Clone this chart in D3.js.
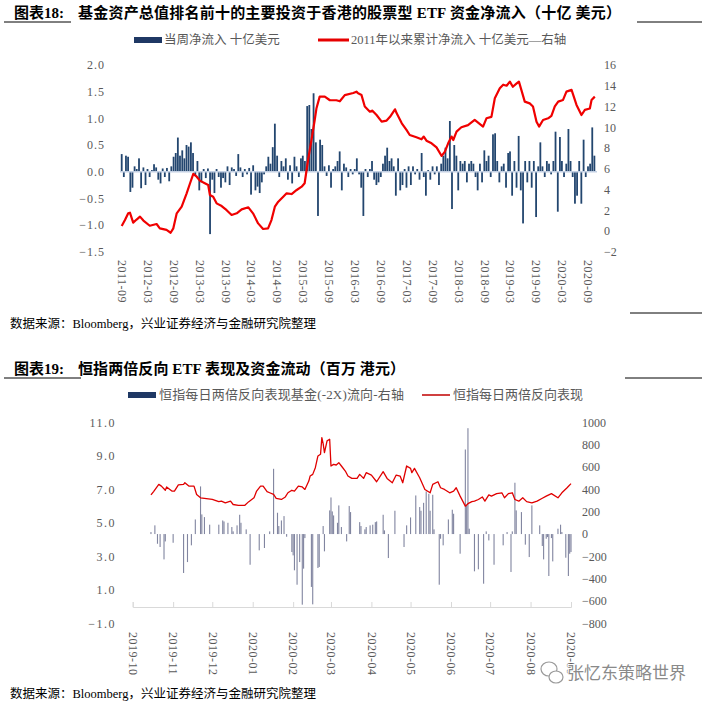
<!DOCTYPE html>
<html>
<head>
<meta charset="utf-8">
<title>ETF flows</title>
<style>
  body, html { margin: 0; padding: 0; background: #fff; }
  svg { display: block; }
  text { font-family: 'Liberation Serif', 'Noto Sans CJK SC', serif; }
</style>
</head>
<body>
<svg id="svg" width="706" height="703"></svg>
<script src="https://d3js.org/d3.v7.min.js"></script>
<script>
// ---- 图表18 data: half-monthly net flow (bn USD), cumulative since 2011 (right axis)
const flowStart = '2011-09-01'
const weeklyFlow = [
  0.33, -0.1, 0.3, 0.28, -0.38, -0.3, 0.1, 0.05, 0.25, -0.31,
  0.08, -0.25, 0.05, -0.1, 0.03, 0.14, 0.08, -0.15, -0.22, 0.06,
  -0.1, 0.07, -0.18, 0.1, 0.28, 0.35, 0.64, 0.3, 0.4, 0.25,
  0.5, 0.47, 0.55, 0.35, -0.08, 0.2, -0.35, -0.2, 0.05, -0.12,
  0.06, -1.17, -0.15, -0.4, 0.05, -0.1, -0.3, -0.12, -0.2, 0.1,
  -0.25, 0.08, 0.05, -0.08, 0.33, 0.08, -0.1, 0.05, -0.05, 0.07,
  -0.43, 0.12, -0.35, -0.28, -0.4, -0.2, -0.05, 0.1, 0.28, 0.15,
  0.46, 0.9, 0.3, -0.1, 0.2, 0.1, 0.25, -0.15, 0.12, -0.22,
  0.28, 0.1, -0.1, 0.25, 0.3, 0.2, 1.23, 1.25, 0.8, 1.47,
  0.55, -0.83, 0.6, 0.5, 0.1, -0.08, 0.12, -0.3, 0.05, 0.1,
  0.2, 0.38, -0.35, 0.15, 0.08, -0.1, 0.05, -0.05, 0.05, 0.25,
  -0.05, -0.3, -0.83, 0.05, -0.1, 0.05, 0.2, -0.15, -0.25, -0.2,
  -0.1, 0.15, 0.3, 0.45, 0.2, 0.25, 0.1, -0.45, 0.25, -0.35,
  -0.25, 0.05, -0.3, 0.1, -0.25, 0.1, -0.05, 0.05, -0.15, 0.35,
  -0.1, -0.45, 0.03, -0.15, 0.1, -0.05, 0.1, -0.25, 0.15, 0.3,
  0.45, 0.25, 0.95, -0.7, 0.5, 0.3, -0.35, 0.2, 0.15, 0.2,
  -0.2, 0.15, 0.2, 0.15, -0.1, -0.35, 0.15, -0.2, 0.4, 0.2,
  0.3, -0.1, 0.7, 0.72, 0.2, -0.2, 0.1, 0.15, -0.3, 0.35,
  0.38, -0.45, 0.2, -0.3, 0.67, -0.35, -0.97, 0.2, -0.2, 0.2,
  -0.3, 0.2, -0.85, 0.1, 0.55, 0.1, -0.1, 0.2, 0.15, -0.05,
  0.2, 0.75, -0.75, 0.65, 0.2, -0.1, 0.15, 0.8, 0.2, -0.1,
  -0.6, -0.45, 0.2, -0.6, 0.6, -0.1, 0.1, 0.15, 0.83, 0.3
]
const cumDates = [
  '2011-09-01', '2011-09-24', '2011-10-17', '2011-10-29', '2011-11-21', '2011-12-15',
  '2012-01-08', '2012-02-01', '2012-03-17', '2012-05-04', '2012-05-27', '2012-07-13',
  '2012-08-11', '2012-08-30', '2012-09-23', '2012-10-28', '2012-12-02', '2012-12-26',
  '2013-01-18', '2013-02-11', '2013-03-05', '2013-04-09', '2013-05-03', '2013-05-15',
  '2013-06-07', '2013-07-01', '2013-08-06', '2013-09-10', '2013-10-15', '2013-11-20',
  '2013-12-25', '2014-02-10', '2014-03-15', '2014-04-20', '2014-05-25', '2014-06-29',
  '2014-07-23', '2014-08-16', '2014-09-09', '2014-10-14', '2014-11-07', '2014-12-12',
  '2015-01-17', '2015-02-21', '2015-03-14', '2015-04-07', '2015-05-01', '2015-05-24',
  '2015-06-05', '2015-06-28', '2015-08-03', '2015-09-08', '2015-10-24', '2015-11-17',
  '2015-12-22', '2016-02-20', '2016-03-13', '2016-03-25', '2016-04-18', '2016-05-11',
  '2016-06-16', '2016-07-04', '2016-08-02', '2016-09-07', '2016-10-12', '2016-11-05',
  '2016-12-10', '2016-12-22', '2017-01-27', '2017-03-01', '2017-03-24', '2017-05-10',
  '2017-06-15', '2017-07-01', '2017-07-20', '2017-08-25', '2017-09-29', '2017-11-04',
  '2017-11-27', '2017-12-20', '2018-01-13', '2018-01-25', '2018-02-17', '2018-03-23',
  '2018-05-09', '2018-06-25', '2018-07-19', '2018-08-23', '2018-09-16', '2018-10-21',
  '2018-11-14', '2018-12-19', '2019-01-12', '2019-02-05', '2019-02-28', '2019-03-21',
  '2019-04-15', '2019-05-03', '2019-05-20', '2019-06-13', '2019-07-18', '2019-08-10',
  '2019-09-04', '2019-09-22', '2019-10-20', '2019-11-25', '2019-12-18', '2020-01-11',
  '2020-02-04', '2020-03-09', '2020-04-02', '2020-05-08', '2020-06-12', '2020-07-17',
  '2020-08-10', '2020-09-14', '2020-09-26', '2020-10-19'
]
const cumValues = [
  0.48, 1.05, 1.7, 1.76, 0.8, 1.1,
  1.38, 1.0, 0.5, 0.67, 0.25, 0.1,
  -0.17, 0.25, 1.7, 2.34, 3.63, 4.6,
  5.5, 5.23, 4.85, 4.6, 4.43, 3.47,
  3.3, 2.66, 2.4, 2.0, 1.54, 1.7,
  2.08, 2.28, 1.7, 0.73, 0.19, 0.25,
  1.05, 2.34, 2.82, 3.3, 3.63, 3.56,
  3.95, 4.27, 4.6, 6.84, 8.77, 10.7,
  11.8, 12.95, 12.95, 12.6, 12.6, 12.5,
  13.1, 13.3, 13.43, 13.27, 13.1, 12.0,
  11.5, 11.6, 11.18, 10.54, 10.64, 11.0,
  11.73, 11.34, 10.38, 9.74, 9.25, 9.03,
  8.84, 9.1, 8.7, 8.45, 8.06, 7.23,
  7.65, 8.45, 9.1, 8.77, 9.58, 10.0,
  10.2, 10.7, 10.44, 10.06, 10.86, 11.0,
  12.8, 13.76, 14.1, 14.0, 14.4, 13.9,
  14.2, 14.4, 13.6, 12.47, 12.3, 12.0,
  10.54, 10.06, 10.7, 10.86, 11.1, 12.0,
  12.47, 12.63, 13.43, 13.6, 12.15, 11.18,
  11.67, 11.8, 12.63, 12.95
]
const ticks18 = ['2011-09', '2012-03', '2012-09', '2013-03', '2013-09', '2014-03', '2014-09',
  '2015-03', '2015-09', '2016-03', '2016-09', '2017-03', '2017-09', '2018-03', '2018-09',
  '2019-03', '2019-09', '2020-03', '2020-09']
const left18 = [-1.5, -1.0, -0.5, 0, 0.5, 1.0, 1.5, 2.0]
const right18 = [-2, 0, 2, 4, 6, 8, 10, 12, 14, 16]

// ---- 图表19 data: daily -2X fund flow (mn HKD, right axis) and fund performance (left axis)
const flowDates19 = [
  '2019-10-15', '2019-10-18', '2019-10-20', '2019-10-22', '2019-10-25', '2019-10-26',
  '2019-11-01', '2019-11-09', '2019-11-12', '2019-11-15', '2019-11-18', '2019-11-22', '2019-11-23', '2019-11-25', '2019-11-29',
  '2019-12-06', '2019-12-09', '2019-12-10', '2019-12-13', '2019-12-16', '2019-12-17', '2019-12-20', '2019-12-22', '2019-12-23', '2019-12-27', '2019-12-30',
  '2020-01-06', '2020-01-10', '2020-01-14', '2020-01-17', '2020-01-20', '2020-01-21', '2020-01-23', '2020-01-25', '2020-01-27', '2020-01-31',
  '2020-02-01', '2020-02-02', '2020-02-04', '2020-02-06', '2020-02-08', '2020-02-09', '2020-02-10', '2020-02-15', '2020-02-16', '2020-02-20', '2020-02-21', '2020-02-24', '2020-02-25', '2020-02-29',
  '2020-03-01', '2020-03-02', '2020-03-03', '2020-03-06', '2020-03-07', '2020-03-09', '2020-03-13', '2020-03-15', '2020-03-16', '2020-03-23', '2020-03-24', '2020-03-27', '2020-03-28', '2020-03-31',
  '2020-04-02', '2020-04-04', '2020-04-05', '2020-04-10', '2020-04-11', '2020-04-14', '2020-04-19', '2020-04-26', '2020-04-28',
  '2020-05-01', '2020-05-05', '2020-05-08', '2020-05-09', '2020-05-11', '2020-05-13', '2020-05-15', '2020-05-16', '2020-05-18', '2020-05-19', '2020-05-23', '2020-05-24', '2020-05-26', '2020-05-30',
  '2020-06-02', '2020-06-03', '2020-06-08', '2020-06-12', '2020-06-13', '2020-06-14', '2020-06-15', '2020-06-19', '2020-06-22', '2020-06-26', '2020-06-28', '2020-06-30',
  '2020-07-04', '2020-07-11', '2020-07-14', '2020-07-17', '2020-07-18', '2020-07-20', '2020-07-21', '2020-07-25', '2020-07-28', '2020-07-31',
  '2020-08-02', '2020-08-08', '2020-08-10', '2020-08-11', '2020-08-13', '2020-08-14', '2020-08-15', '2020-08-17', '2020-08-18', '2020-08-22', '2020-08-24', '2020-08-25', '2020-08-28', '2020-08-30', '2020-08-31',
  '2020-09-01'
]
const flowValues19 = [
  18, 78, -87, -116, -227, -66,
  -78, -349, -251, -101, 131, 427, 176, 152, 84,
  84, 122, 113, 101, 63, 24, 78, 173, 101, 42, -275,
  -146, -125, 24, 585, 191, 72, 122, 161, -24, -161,
  -191, -325, -454, -251, -633, -310, -36, -474, -630, -304, -295, 72, -155, 212,
  328, 203, 167, 101, 257, 63, -66, 251, 197, 107, 72, 42, 63, 78,
  84, 107, 113, 173, 33, -215, 209, -116, 78,
  149, 346, 242, 209, 280, 382, 361, 209, 352, 42, -454, -42, -101, 131,
  218, 182, -176, 758, 257, 949, 48, -334, -316, -445, 24, -57,
  -275, -101, 18, -340, 24, 460, 212, 197, -95, -206,
  257, 78, -107, -227, -42, -27, -376, -36, -245, 48, 84, 18, -212, -376, -176,
  -161
]
const perfDates19 = [
  '2019-10-15', '2019-10-17', '2019-10-21', '2019-10-23', '2019-10-26', '2019-10-27', '2019-10-31',
  '2019-11-02', '2019-11-05', '2019-11-09', '2019-11-10', '2019-11-13', '2019-11-17', '2019-11-19', '2019-11-22', '2019-11-25',
  '2019-12-01', '2019-12-06', '2019-12-08', '2019-12-11', '2019-12-15', '2019-12-17', '2019-12-21', '2019-12-26', '2019-12-29',
  '2020-01-02', '2020-01-04', '2020-01-07', '2020-01-09', '2020-01-12', '2020-01-14', '2020-01-17', '2020-01-19', '2020-01-23', '2020-01-26', '2020-01-28', '2020-01-31',
  '2020-02-02', '2020-02-05', '2020-02-08', '2020-02-10', '2020-02-13', '2020-02-14', '2020-02-16', '2020-02-18', '2020-02-20', '2020-02-22', '2020-02-23', '2020-02-24', '2020-02-25', '2020-02-27', '2020-02-29',
  '2020-03-01', '2020-03-03', '2020-03-05', '2020-03-07', '2020-03-09', '2020-03-12', '2020-03-14', '2020-03-17', '2020-03-21', '2020-03-23', '2020-03-26', '2020-03-28',
  '2020-04-01', '2020-04-05', '2020-04-10', '2020-04-13', '2020-04-17', '2020-04-20', '2020-04-23', '2020-04-25', '2020-04-28',
  '2020-05-01', '2020-05-02', '2020-05-04', '2020-05-08', '2020-05-12', '2020-05-16', '2020-05-18', '2020-05-22', '2020-05-24', '2020-05-27', '2020-05-31',
  '2020-06-03', '2020-06-05', '2020-06-08', '2020-06-12', '2020-06-14', '2020-06-17', '2020-06-19', '2020-06-22', '2020-06-25', '2020-06-27', '2020-06-30',
  '2020-07-02', '2020-07-06', '2020-07-10', '2020-07-12', '2020-07-15', '2020-07-18', '2020-07-20', '2020-07-23', '2020-07-26', '2020-07-29',
  '2020-08-02', '2020-08-06', '2020-08-10', '2020-08-13', '2020-08-17', '2020-08-22', '2020-08-25', '2020-08-29',
  '2020-09-01'
]
const perfValues19 = [
  6.67, 6.87, 7.3, 7.2, 6.95, 7.15, 6.9,
  6.9, 7.27, 7.3, 7.4, 7.2, 7.2, 6.7, 6.5, 6.47,
  6.4, 6.27, 6.3, 6.2, 6.3, 6.1, 6.05, 6.05, 6.27,
  6.5, 6.9, 7.2, 7.2, 6.87, 6.8, 6.7, 6.47, 6.4, 6.55, 6.8, 6.95,
  6.9, 7.2, 7.15, 7.0, 7.5, 7.8, 7.9, 8.3, 9.0, 9.1, 10.1, 9.74, 9.2, 9.9, 10.0,
  8.4, 8.5, 8.46, 8.6, 8.4, 8.1, 7.8, 7.66, 7.66, 7.9, 7.66, 8.0,
  7.86, 7.46, 8.06, 7.66, 7.4, 7.86, 7.8, 7.4, 8.4,
  8.26, 8.0, 8.26, 7.7, 7.0, 6.8, 7.3, 7.46, 7.1, 7.0, 6.8,
  6.9, 7.1, 6.6, 6.0, 6.15, 6.27, 6.3, 6.4, 6.55, 6.3, 6.67,
  6.6, 6.75, 6.8, 6.5, 6.75, 6.8, 6.4, 6.3, 6.5, 6.27,
  6.2, 6.3, 6.47, 6.6, 6.75, 6.5, 6.8, 7.1,
  7.35
]
const ticks19 = ['2019-10', '2019-11', '2019-12', '2020-01', '2020-02', '2020-03', '2020-04',
  '2020-05', '2020-06', '2020-07', '2020-08', '2020-09']
const left19 = [-1, 1, 3, 5, 7, 9, 11]
const right19 = [-800, -600, -400, -200, 0, 200, 400, 600, 800, 1000]

const parse = d3.timeParse('%Y-%m-%d')
const parseMonth = d3.timeParse('%Y-%m')
const grey = '#595959'
const svg = d3.select('#svg')

function header(y, num, rest, restLen, ulEnd, rightStart) {
  svg.append('text').attr('x', 14).attr('y', y).attr('font-size', 15).attr('font-weight', 'bold')
    .attr('fill', '#000').text(num)
  svg.append('text').attr('x', 78).attr('y', y).attr('font-size', 15).attr('font-weight', 'bold')
    .attr('fill', '#000').attr('textLength', restLen).attr('lengthAdjust', 'spacing').text(rest)
  svg.append('line').attr('x1', 4).attr('x2', ulEnd).attr('y1', y + 4).attr('y2', y + 4)
    .attr('stroke', '#000').attr('stroke-width', 1)
  svg.append('line').attr('x1', rightStart).attr('x2', 702).attr('y1', y + 4).attr('y2', y + 4)
    .attr('stroke', '#000').attr('stroke-width', 1)
}

function source(y) {
  svg.append('text').attr('x', 10).attr('y', y).attr('font-size', 12.5).attr('fill', '#000')
    .text('数据来源：Bloomberg，兴业证券经济与金融研究院整理')
}

function styleAxis(g) {
  g.select('.domain').remove()
  g.selectAll('text').attr('fill', grey).attr('font-size', 12)
    .attr('font-family', "'Liberation Serif', serif")
}

// ================= 图表18 =================
header(18, '图表18:', '基金资产总值排名前十的主要投资于香港的股票型 ETF 资金净流入（十亿 美元）', 543, 71, 637)

svg.append('rect').attr('x', 134).attr('y', 37).attr('width', 28).attr('height', 6).attr('fill', '#1f3864')
svg.append('text').attr('x', 164).attr('y', 44).attr('font-size', 12.5).attr('fill', grey).text('当周净流入 十亿美元')
svg.append('line').attr('x1', 318).attr('x2', 349).attr('y1', 40).attr('y2', 40).attr('stroke', '#e60000').attr('stroke-width', 3)
svg.append('text').attr('x', 351).attr('y', 44).attr('font-size', 12.5).attr('fill', grey).text('2011年以来累计净流入 十亿美元—右轴')

const x1 = d3.scaleTime().domain([parseMonth('2011-09'), parseMonth('2020-09')]).range([121.7, 588])
const yL1 = d3.scaleLinear().domain([-1.5, 2]).range([251.7, 65])
const yR1 = d3.scaleLinear().domain([-2, 16]).range([251.7, 65])

const flowDates = weeklyFlow.map((v, i) =>
  d3.timeDay.offset(d3.timeMonth.offset(parse(flowStart), Math.floor(i / 2)), (i % 2) * 15))
const flow18 = weeklyFlow.map((v, i) => ({ date: flowDates[i], value: v }))

svg.append('g').selectAll('rect').data(flow18).enter().append('rect')
  .attr('x', d => x1(d.date) - 0.9)
  .attr('y', d => yL1(Math.max(0, d.value)))
  .attr('width', 1.8)
  .attr('height', d => Math.abs(yL1(d.value) - yL1(0)))
  .attr('fill', '#23466f')

svg.append('line').attr('x1', 120).attr('x2', 597).attr('y1', yL1(0)).attr('y2', yL1(0))
  .attr('stroke', '#c3d0e3').attr('stroke-width', 1.5)

const cum18 = cumDates.map((d, i) => ({ date: parse(d), value: cumValues[i] }))
svg.append('path').datum(cum18)
  .attr('fill', 'none').attr('stroke', '#f00000').attr('stroke-width', 2.2).attr('stroke-linejoin', 'round')
  .attr('d', d3.line().x(d => x1(d.date)).y(d => yR1(d.value)))

svg.append('g').attr('transform', 'translate(108,0)')
  .call(d3.axisLeft(yL1).tickValues(left18).tickFormat(d3.format('.1f')).tickSize(0).tickPadding(3))
  .call(g => styleAxis(g))
  .selectAll('text').attr('letter-spacing', 1)
svg.append('g').attr('transform', 'translate(601,0)')
  .call(d3.axisRight(yR1).tickValues(right18).tickFormat(d3.format('d')).tickSize(0).tickPadding(3))
  .call(g => styleAxis(g))
svg.append('g').attr('transform', 'translate(0,255)')
  .call(d3.axisBottom(x1).tickValues(ticks18.map(parseMonth)).tickFormat(d3.timeFormat('%Y-%m')).tickSize(0))
  .call(g => styleAxis(g))
  .selectAll('text').attr('transform', 'rotate(90)').attr('text-anchor', 'start')
  .attr('x', 5).attr('y', 0).attr('dy', '0.35em').attr('letter-spacing', 0.5)

svg.append('line').attr('x1', 630).attr('x2', 702).attr('y1', 313).attr('y2', 313).attr('stroke', '#000')
source(328)

// ================= 图表19 =================
header(374, '图表19:', '恒指两倍反向 ETF 表现及资金流动（百万 港元）', 327, 81, 625)

svg.append('rect').attr('x', 128).attr('y', 392).attr('width', 28).attr('height', 6).attr('fill', '#1f3864')
svg.append('text').attr('x', 159).attr('y', 399).attr('font-size', 13).attr('fill', grey)
  .attr('textLength', 245).attr('lengthAdjust', 'spacing').text('恒指每日两倍反向表现基金(-2X)流向-右轴')
svg.append('line').attr('x1', 422).attr('x2', 450).attr('y1', 395).attr('y2', 395).attr('stroke', '#c00000').attr('stroke-width', 1.5)
svg.append('text').attr('x', 453).attr('y', 399).attr('font-size', 13).attr('fill', grey).text('恒指每日两倍反向表现')

const x2 = d3.scaleTime().domain([parseMonth('2019-10'), parseMonth('2020-09')]).range([132.7, 571])
const yL2 = d3.scaleLinear().domain([-1, 11]).range([623.3, 422.5])
const yR2 = d3.scaleLinear().domain([-800, 1000]).range([623.3, 422.5])

const flow19 = flowDates19.map((d, i) => ({ date: parse(d), value: flowValues19[i] }))
svg.append('g').selectAll('rect').data(flow19).enter().append('rect')
  .attr('x', d => x2(d.date) - 0.55)
  .attr('y', d => yR2(Math.max(0, d.value)))
  .attr('width', 1.1)
  .attr('height', d => Math.abs(yR2(d.value) - yR2(0)))
  .attr('fill', '#4b5177').attr('opacity', 0.7)

svg.append('g').attr('transform', 'translate(0,607)')
  .call(d3.axisBottom(x2).tickValues(ticks19.map(parseMonth)).tickFormat('').tickSize(-5))
  .call(g => g.select('.domain').attr('stroke', '#d9d9d9'))
  .call(g => g.selectAll('.tick line').attr('stroke', '#d9d9d9'))

const perf19 = perfDates19.map((d, i) => ({ date: parse(d), value: perfValues19[i] }))
svg.append('path').datum(perf19)
  .attr('fill', 'none').attr('stroke', '#e00000').attr('stroke-width', 1.3).attr('stroke-linejoin', 'round')
  .attr('d', d3.line().x(d => x2(d.date)).y(d => yL2(d.value)))

svg.append('g').attr('transform', 'translate(119,0)')
  .call(d3.axisLeft(yL2).tickValues(left19).tickFormat(d3.format('.1f')).tickSize(0).tickPadding(3))
  .call(g => styleAxis(g))
  .selectAll('text').attr('letter-spacing', 1.5)
svg.append('g').attr('transform', 'translate(579,0)')
  .call(d3.axisRight(yR2).tickValues(right19).tickFormat(d3.format('d')).tickSize(0).tickPadding(3))
  .call(g => styleAxis(g))
svg.append('g').attr('transform', 'translate(0,607)')
  .call(d3.axisBottom(x2).tickValues(ticks19.map(parseMonth)).tickFormat(d3.timeFormat('%Y-%m')).tickSize(0))
  .call(g => styleAxis(g))
  .selectAll('text').attr('transform', 'rotate(90)').attr('text-anchor', 'start')
  .attr('x', 25).attr('y', 0).attr('dy', '0.35em').attr('letter-spacing', 0.5)

// watermark
const wm = svg.append('g').attr('fill', 'none').attr('stroke', '#9a9a9a').attr('stroke-width', 1.2)
wm.append('ellipse').attr('cx', 549).attr('cy', 669).attr('rx', 8).attr('ry', 7)
wm.append('ellipse').attr('cx', 556).attr('cy', 677).attr('rx', 7).attr('ry', 6).attr('fill', '#fff')
svg.append('text').attr('x', 567).attr('y', 679).attr('font-size', 17)
  .attr('font-family', "'Noto Sans CJK SC', sans-serif")
  .attr('fill', '#8a8a8a').attr('stroke', '#fff').attr('stroke-width', 2).attr('paint-order', 'stroke')
  .text('张忆东策略世界')

source(698)
</script>
</body>
</html>
